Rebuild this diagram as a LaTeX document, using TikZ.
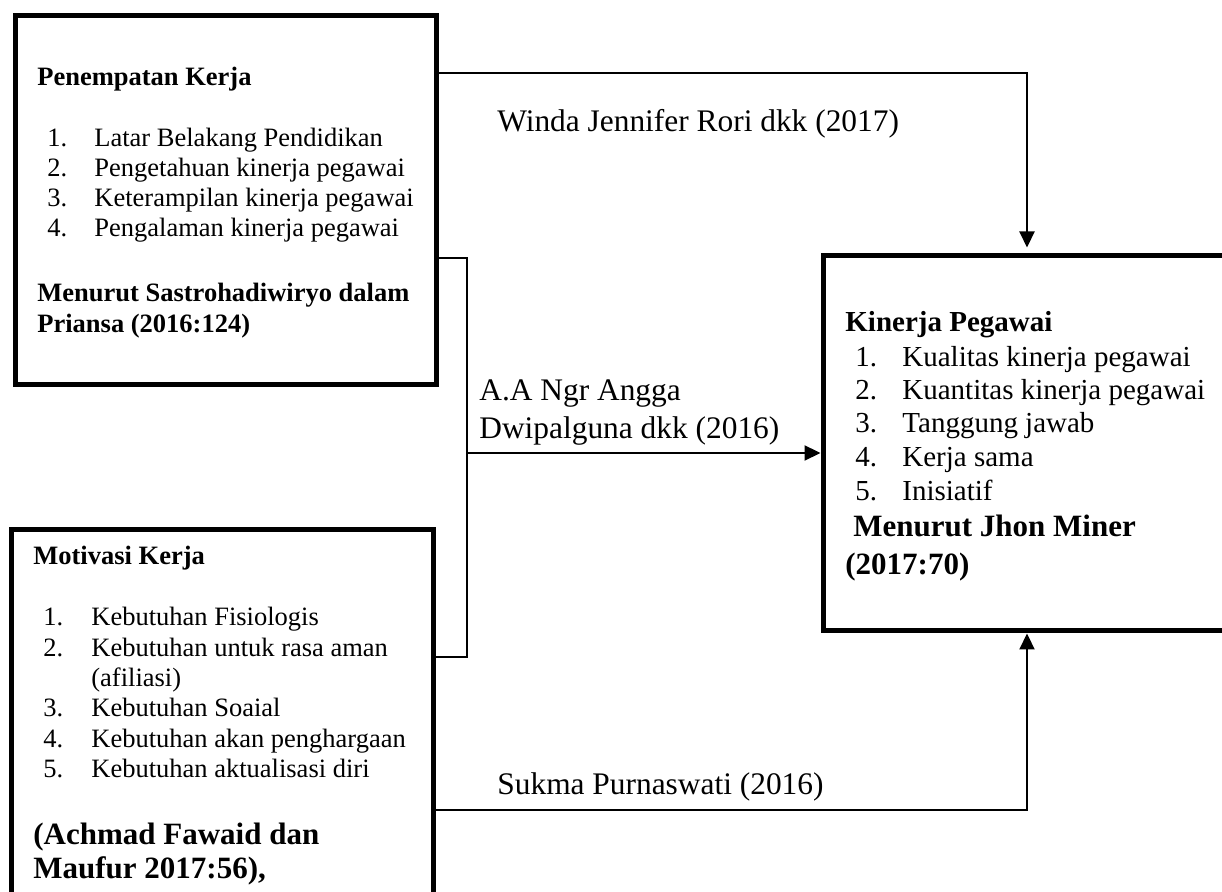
\documentclass[tikz,border=0pt]{standalone}
\usepackage{fontspec}
\setmainfont{Liberation Serif}
\usetikzlibrary{arrows.meta}

\begin{document}
\begin{tikzpicture}[
        x=0.5pt, y=-0.5pt,
        every node/.style={inner sep=0pt, anchor=base west},
        box/.style={draw, line width=2.5pt, anchor=center},
        conn/.style={line width=1.1pt},
        arr/.style={conn, -{Triangle[length=8pt, width=7.5pt]}},
        txt/.style={font=\fontsize{13.25}{15}\selectfont},
        txtb/.style={font=\fontsize{13.25}{15}\selectfont\bfseries},
        kptxt/.style={font=\fontsize{14.5}{17}\selectfont},
        kpb/.style={font=\fontsize{14.5}{17}\selectfont\bfseries},
        citeb/.style={font=\fontsize{15.5}{18}\selectfont\bfseries},
        lbl/.style={font=\fontsize{15.7}{18}\selectfont}
    ]
    \useasboundingbox (0, 0) rectangle (1222, 892);
    \clip (0, 0) rectangle (1222, 892);

    \node[box, minimum width=210.25pt, minimum height=184.75pt] (pk) at (225.75, 200.25) {};
    \node[box, minimum width=211pt, minimum height=250pt] (mk) at (222, 780) {};
    \node[box, minimum width=250pt, minimum height=187.5pt] (kp) at (1073, 443.5) {};

    \node[txtb] (pkhead) at (37, 86) {Penempatan Kerja};
    \foreach \n/\t/\y in {1/Latar Belakang Pendidikan/147, 2/Pengetahuan kinerja pegawai/177,
                          3/Keterampilan kinerja pegawai/207, 4/Pengalaman kinerja pegawai/237} {
        \node[txt] (pkn\n) at (47, \y) {\n.};
        \node[txt] (pkt\n) at (94, \y) {\t};
    }
    \node[txtb] (pkcite1) at (37, 302) {Menurut Sastrohadiwiryo dalam};
    \node[txtb] (pkcite2) at (37, 333) {Priansa (2016:124)};

    \node[txtb] (mkhead) at (33, 565) {Motivasi Kerja};
    \foreach \n/\t/\y in {1/Kebutuhan Fisiologis/626, 2/Kebutuhan untuk rasa aman/657,
                          3/Kebutuhan Soaial/717, 4/Kebutuhan akan penghargaan/748,
                          5/Kebutuhan aktualisasi diri/778} {
        \node[txt] (mkn\n) at (43, \y) {\n.};
        \node[txt] (mkt\n) at (91, \y) {\t};
    }
    \node[txt] (mkt2b) at (91, 687) {(afiliasi)};
    \node[citeb] (mkcite1) at (33, 845) {(Achmad Fawaid dan};
    \node[citeb] (mkcite2) at (33, 878) {Maufur 2017:56),};

    \node[kpb] (kphead) at (845, 332) {Kinerja Pegawai};
    \foreach \n/\t/\y in {1/Kualitas kinerja pegawai/367, 2/Kuantitas kinerja pegawai/400,
                          3/Tanggung jawab/433, 4/Kerja sama/467, 5/Inisiatif/501} {
        \node[kptxt] (kpn\n) at (855, \y) {\n.};
        \node[kptxt] (kpt\n) at (902, \y) {\t};
    }
    \node[citeb] (kpcite1) at (853, 537) {Menurut Jhon Miner};
    \node[citeb] (kpcite2) at (845, 575) {(2017:70)};

    \node[lbl] (winda) at (497, 132) {Winda Jennifer Rori dkk (2017)};
    \node[lbl] (angga1) at (479, 401) {A.A Ngr Angga};
    \node[lbl] (angga2) at (479, 439) {Dwipalguna dkk (2016)};
    \node[lbl] (sukma) at (497, 795) {Sukma Purnaswati (2016)};

    \coordinate (topbend) at (1027, 73);
    \coordinate (botbend) at (1027, 810);
    \coordinate (joinup) at (467, 258);
    \coordinate (joindn) at (467, 657);
    \coordinate (joinmid) at (467, 453);

    \draw[arr, shorten >=3pt] (pk.east |- topbend) -| (topbend |- kp.north);
    \draw[arr] (mk.east |- botbend) -| (botbend |- kp.south);
    \draw[conn] (pk.east |- joinup) -- (joinup) -- (joindn) -- (mk.east |- joindn);
    \draw[arr] (joinmid) -- (kp.west |- joinmid);
\end{tikzpicture}
\end{document}
